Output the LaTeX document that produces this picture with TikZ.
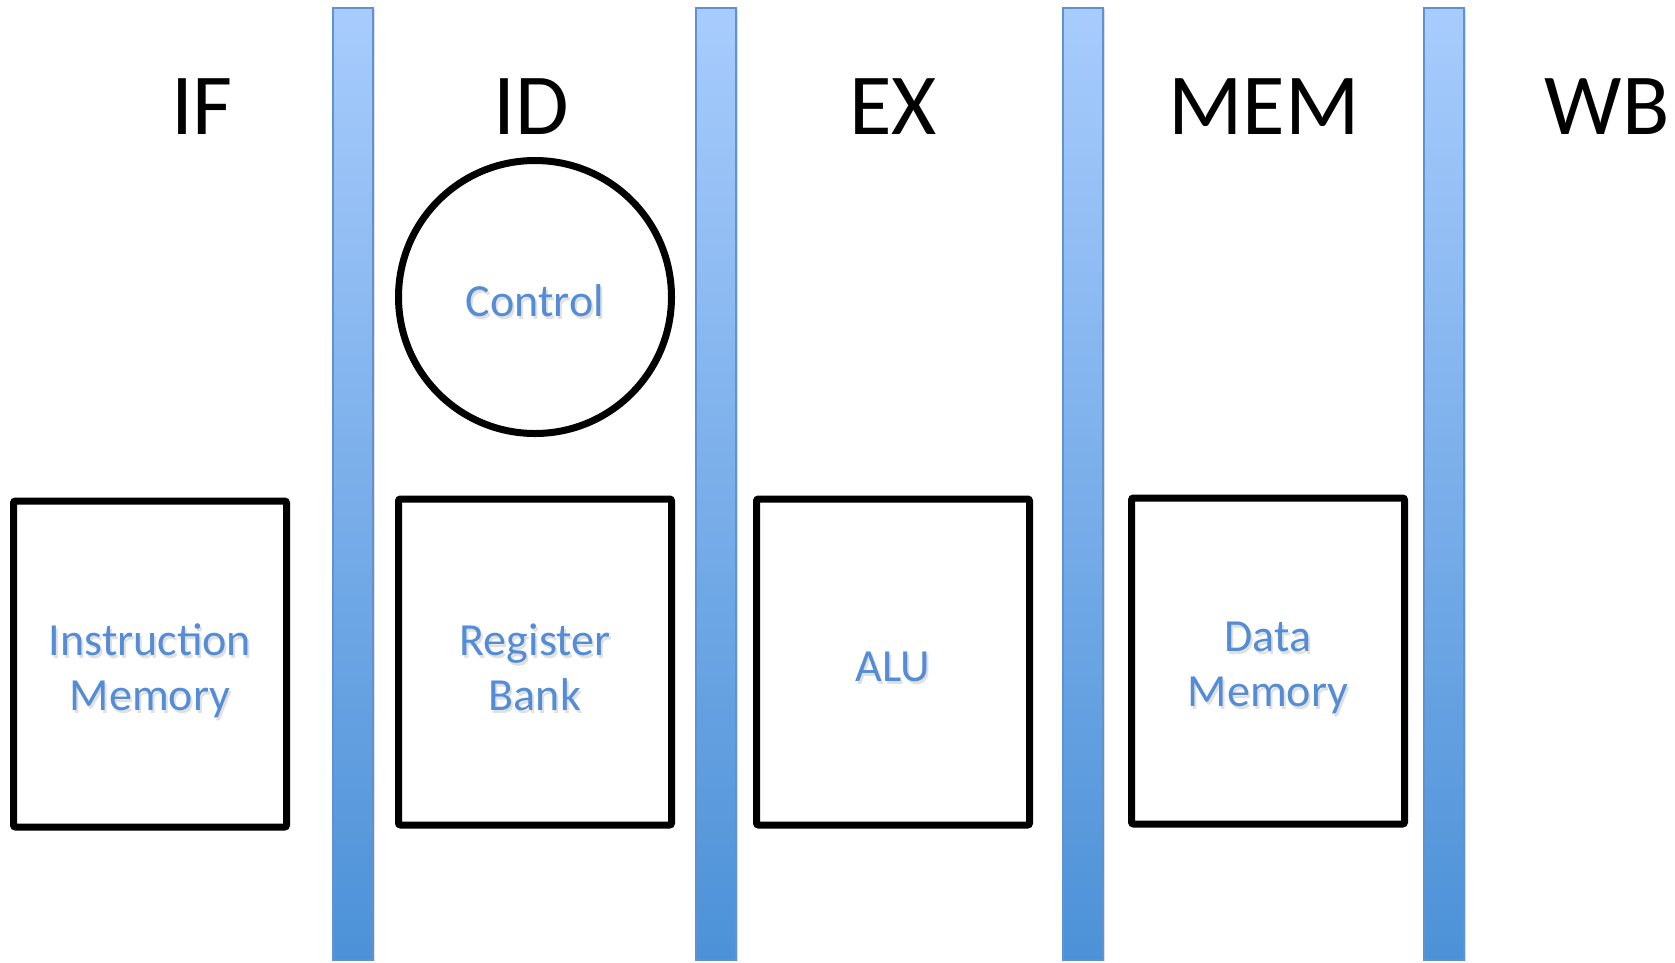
\documentclass[tikz,border=0pt]{standalone}
\usepackage{fontspec}
\setmainfont{Carlito}
\usetikzlibrary{shadows}
\definecolor{barTop}{RGB}{168,204,253}
\definecolor{barBot}{RGB}{76,145,215}
\definecolor{barEdge}{RGB}{96,146,210}
\definecolor{txtBlue}{RGB}{84,140,214}
\tikzset{
  stagebar/.style={draw=barEdge, line width=1.5pt, top color=barTop, bottom color=barBot,
    drop shadow={shadow xshift=2pt, shadow yshift=-1pt, opacity=0.25}},
  unitbox/.style={draw=black, line width=7pt, fill=white, rounded corners=2pt, minimum width=273pt, minimum height=326pt,
    drop shadow={shadow xshift=2pt, shadow yshift=-3pt, opacity=0.3}},
  unitcirc/.style={draw=black, line width=7pt, fill=white, circle, minimum size=273pt, inner sep=0pt,
    drop shadow={shadow xshift=2pt, shadow yshift=-3pt, opacity=0.3}},
  unittext/.style={text=txtBlue, font=\fontsize{46}{55}\selectfont, align=center},
  stagelabel/.style={font=\fontsize{87}{100}\selectfont, text=black},
}
\begin{document}
\begin{tikzpicture}[x=1pt,y=-1pt]
\useasboundingbox (0,0) rectangle (1675,962);
% pipeline registers
\foreach \n/\x in {b1/333,b2/696,b3/1063,b4/1424}{
  \path[stagebar] (\x,8) rectangle ++(40,952);
}
% stage labels
\node[stagelabel] (IF) at (202,107) {IF};
\node[stagelabel] (ID) at (531,107) {ID};
\node[stagelabel] (EX) at (893,107) {EX};
\node[stagelabel] (MEM) at (1264,107) {MEM};
\node[stagelabel] (WB) at (1607,107) {WB};
% units
\node[unitbox] (imem) at (150,664) {};
\node[unitbox] (reg) at (535,662) {};
\node[unitbox] (alu) at (893,662) {};
\node[unitbox] (dmem) at (1268,661) {};
\node[unitcirc] (ctrl) at (535,297) {};
% unit labels with soft shadow
\foreach \p/\t in {{(150,671)}/{Instruction\\Memory},{(535,667)}/{Register\\Bank},{(893,667)}/{ALU},{(1268,668)}/{Data\\Memory},{(535,301)}/{Control}}{
  \node[unittext, text=black, opacity=0.12, xshift=2pt, yshift=-3pt] at \p {\t};
}
\node[unittext] (imemT) at (150,671) {Instruction\\Memory};
\node[unittext] (regT) at (535,667) {Register\\Bank};
\node[unittext] (aluT) at (893,667) {ALU};
\node[unittext] (dmemT) at (1268,668) {Data\\Memory};
\node[unittext] (ctrlT) at (535,301) {Control};
\end{tikzpicture}
\end{document}
